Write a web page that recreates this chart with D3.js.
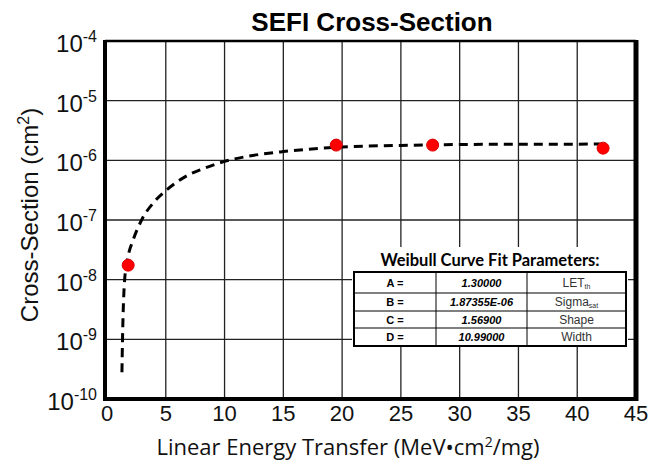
<html>
<head>
<script src="https://d3js.org/d3.v7.min.js"></script>
<style>
  body { margin: 0; background: #fff; }
  text { font-family: Arial, "Liberation Sans", sans-serif; }
</style>
</head>
<body>
<svg id="chart" width="657" height="466" style="background:#fff"></svg>
<script>
// data
const measLET = [1.8, 19.5, 27.7, 42.2];
const measXS = [1.75e-8, 1.8e-6, 1.8e-6, 1.6e-6];

const fitLET = [1.27, 1.32, 1.5, 1.8, 2.2, 3, 4, 5, 6, 7, 8, 10, 12, 15, 18, 20, 25, 30, 35, 42];
const fitXS = [2.8e-10, 1e-9, 1e-8, 2.5e-8, 4.5e-8, 1.05e-7, 2.0e-7, 3.1e-7, 4.4e-7, 5.8e-7, 7.0e-7,
  9.6e-7, 1.17e-6, 1.4e-6, 1.58e-6, 1.67e-6, 1.78e-6, 1.84e-6, 1.86e-6, 1.87e-6];

const xTicks = [0, 5, 10, 15, 20, 25, 30, 35, 40, 45];
const yExps = [-10, -9, -8, -7, -6, -5, -4];

const paramNames = ["A =", "B =", "C =", "D ="];
const paramValues = ["1.30000", "1.87355E-06", "1.56900", "10.99000"];
const paramLabels = [["LET", "th"], ["Sigma", "sat"], ["Shape", ""], ["Width", ""]];

const svg = d3.select("#chart");
const x = d3.scaleLinear().domain([0, 45]).range([107, 636]);
const y = d3.scaleLog().domain([1e-10, 1e-4]).range([399, 41]);

// grid
const grid = svg.append("g");
grid.selectAll("line.v").data(xTicks.slice(1, -1)).join("line")
  .attr("x1", d => x(d)).attr("x2", d => x(d))
  .attr("y1", y(1e-4)).attr("y2", y(1e-10))
  .attr("stroke", "#222").attr("stroke-width", 1.3);
grid.selectAll("line.h").data(yExps.slice(1, -1)).join("line")
  .attr("x1", x(0)).attr("x2", x(45))
  .attr("y1", d => y(Math.pow(10, d))).attr("y2", d => y(Math.pow(10, d)))
  .attr("stroke", "#222").attr("stroke-width", 1.3);

// frame
svg.append("line").attr("x1", x(0) - 2).attr("x2", x(45)).attr("y1", y(1e-4)).attr("y2", y(1e-4))
  .attr("stroke", "#000").attr("stroke-width", 2.5);
svg.append("line").attr("x1", x(0) - 2).attr("x2", x(0) - 2).attr("y1", y(1e-4) - 1).attr("y2", y(1e-10) + 2)
  .attr("stroke", "#000").attr("stroke-width", 4);
svg.append("line").attr("x1", x(45)).attr("x2", x(45)).attr("y1", y(1e-4) - 1).attr("y2", y(1e-10) + 2)
  .attr("stroke", "#000").attr("stroke-width", 5);
svg.append("line").attr("x1", x(0) - 4).attr("x2", x(45) + 2).attr("y1", y(1e-10)).attr("y2", y(1e-10))
  .attr("stroke", "#000").attr("stroke-width", 4);

// parameter table
const tx = [354, 436, 527, 626];
const ty = [272, 293, 311, 328, 346];
svg.append("rect").attr("x", tx[0] - 2).attr("y", 247).attr("width", tx[3] - tx[0] + 4).attr("height", ty[4] - 247 + 1)
  .attr("fill", "#fff");
svg.append("text").attr("x", (tx[0] + tx[3]) / 2).attr("y", 266).attr("text-anchor", "middle")
  .style("font-family", "Lato, 'Open Sans', sans-serif").style("font-weight", "bold").style("font-size", "16.5px")
  .text("Weibull Curve Fit Parameters:");
svg.append("rect").attr("x", tx[0]).attr("y", ty[0]).attr("width", tx[3] - tx[0]).attr("height", ty[4] - ty[0])
  .attr("fill", "none").attr("stroke", "#000").attr("stroke-width", 2);
ty.slice(1, -1).forEach(v => {
  svg.append("line").attr("x1", tx[0]).attr("x2", tx[3]).attr("y1", v).attr("y2", v)
    .attr("stroke", "#000").attr("stroke-width", 1);
});
tx.slice(1, -1).forEach(v => {
  svg.append("line").attr("x1", v).attr("x2", v).attr("y1", ty[0]).attr("y2", ty[4])
    .attr("stroke", "#000").attr("stroke-width", 1);
});
paramNames.forEach((d, i) => {
  const by = (ty[i] + ty[i + 1]) / 2 + 4;
  svg.append("text").attr("x", (tx[0] + tx[1]) / 2).attr("y", by).attr("text-anchor", "middle")
    .style("font-size", "11px").style("font-weight", "bold").text(d);
  svg.append("text").attr("x", (tx[1] + tx[2]) / 2).attr("y", by).attr("text-anchor", "middle")
    .style("font-size", "11px").style("font-weight", "bold").style("font-style", "italic").text(paramValues[i]);
  const t = svg.append("text").attr("x", (tx[2] + tx[3]) / 2).attr("y", by).attr("text-anchor", "middle")
    .style("font-size", "12px").attr("fill", "#333");
  t.append("tspan").text(paramLabels[i][0]);
  if (paramLabels[i][1]) t.append("tspan").attr("dy", 2).style("font-size", "7px").text(paramLabels[i][1]);
});

// fit curve
const line = d3.line().x(d => x(d[0])).y(d => y(d[1])).curve(d3.curveMonotoneX);
svg.append("path").datum(fitLET.map((d, i) => [d, fitXS[i]]))
  .attr("d", line).attr("fill", "none").attr("stroke", "#000")
  .attr("stroke-width", 3).attr("stroke-dasharray", "9,6");

// measured points
svg.selectAll("circle.pt").data(measLET).join("circle")
  .attr("cx", d => x(d)).attr("cy", (d, i) => y(measXS[i])).attr("r", 6)
  .attr("fill", "#f00").attr("stroke", "#d00").attr("stroke-width", 1);

// y tick labels
yExps.forEach(e => {
  const t = svg.append("text").attr("x", 97).attr("y", y(Math.pow(10, e)) + 11)
    .attr("text-anchor", "end").attr("fill", "#111");
  t.append("tspan").style("font-size", "24px").text("10");
  t.append("tspan").attr("dy", -10).style("font-size", "16px").text(e);
});

// x tick labels
svg.selectAll("text.xt").data(xTicks).join("text")
  .attr("x", d => x(d)).attr("y", 421).attr("text-anchor", "middle")
  .style("font-size", "22px").attr("fill", "#111").text(d => d);

// titles
svg.append("text").attr("x", 372).attr("y", 31).attr("text-anchor", "middle")
  .style("font-size", "26px").style("font-weight", "bold").text("SEFI Cross-Section");

const xt = svg.append("text").attr("x", 348).attr("y", 455).attr("text-anchor", "middle")
  .style("font-family", "'Open Sans', sans-serif").style("font-size", "22px").attr("fill", "#111");
xt.append("tspan").text("Linear Energy Transfer (MeV\u2022cm");
xt.append("tspan").attr("dy", -8).style("font-size", "14px").text("2");
xt.append("tspan").attr("dy", 8).text("/mg)");

const yt = svg.append("text").attr("transform", "translate(38,215) rotate(-90)").attr("text-anchor", "middle")
  .style("font-size", "24px").attr("fill", "#111");
yt.append("tspan").text("Cross-Section  (cm");
yt.append("tspan").attr("dy", -9).style("font-size", "16px").text("2");
yt.append("tspan").attr("dy", 9).text(")");
</script>
</body>
</html>
